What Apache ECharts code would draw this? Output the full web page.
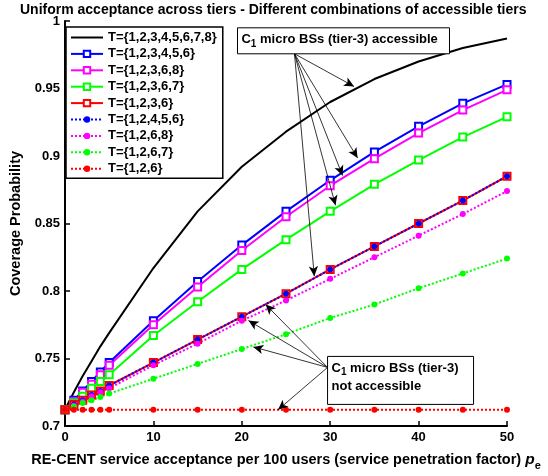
<!DOCTYPE html>
<html>
<head>
<meta charset="utf-8">
<script src="https://cdn.jsdelivr.net/npm/echarts@6/dist/echarts.min.js"></script>
<style>
  html, body { margin: 0; padding: 0; background: #fff; }
  #main { width: 548px; height: 476px; }
</style>
</head>
<body>
<div id="main"></div>
<script>
// x values (service penetration factor p_e)
var pe = [0, 1, 2, 3, 4, 5, 10, 15, 20, 25, 30, 35, 40, 45, 50];

var names = ['T={1,2,3,4,5,6,7,8}', 'T={1,2,3,4,5,6}', 'T={1,2,3,6,8}', 'T={1,2,3,6,7}',
             'T={1,2,3,6}', 'T={1,2,4,5,6}', 'T={1,2,6,8}', 'T={1,2,6,7}', 'T={1,2,6}'];

var t12345678 = [0.712, 0.725, 0.737, 0.748, 0.759, 0.769, 0.817, 0.859, 0.892, 0.918, 0.940, 0.957, 0.970, 0.980, 0.987];
var t123456   = [0.712, 0.719, 0.726, 0.733, 0.740, 0.747, 0.778, 0.807, 0.834, 0.859, 0.882, 0.903, 0.922, 0.939, 0.953];
var t12368    = [0.712, 0.718, 0.725, 0.731, 0.738, 0.745, 0.775, 0.803, 0.830, 0.855, 0.878, 0.898, 0.917, 0.934, 0.949];
var t12367    = [0.712, 0.717, 0.722, 0.728, 0.733, 0.738, 0.767, 0.792, 0.816, 0.838, 0.859, 0.879, 0.897, 0.914, 0.929];
var t1236     = [0.712, 0.716, 0.719, 0.723, 0.726, 0.730, 0.747, 0.764, 0.781, 0.798, 0.816, 0.833, 0.850, 0.867, 0.885];
var t12456    = [0.712, 0.716, 0.719, 0.723, 0.726, 0.730, 0.747, 0.764, 0.781, 0.798, 0.816, 0.833, 0.850, 0.867, 0.885];
var t1268     = [0.712, 0.715, 0.718, 0.722, 0.725, 0.728, 0.745, 0.761, 0.778, 0.793, 0.809, 0.825, 0.841, 0.857, 0.874];
var t1267     = [0.712, 0.7145, 0.717, 0.719, 0.7215, 0.724, 0.735, 0.746, 0.757, 0.768, 0.780, 0.790, 0.802, 0.813, 0.824];
var t126      = [0.712, 0.712, 0.712, 0.712, 0.712, 0.712, 0.712, 0.712, 0.712, 0.712, 0.712, 0.712, 0.712, 0.712, 0.712];

var yTicks = [0.7, 0.75, 0.8, 0.85, 0.9, 0.95, 1];

// annotation arrows, in data coordinates [pe, probability]
var accFrom = [25.96, 0.9757];
var accTo = [[32.7, 0.9515], [33.1, 0.8985], [31.4, 0.8855], [30.6, 0.8635], [28.2, 0.811]];
var notFrom = [29.7, 0.7434];
var notTo = [[22.7, 0.790], [20.75, 0.7781], [21.3, 0.7586], [24.1, 0.712]];

var font = 'Liberation Sans, Arial, Helvetica, sans-serif';

function pairs(ys) {
    return pe.map(function (x, i) { return [x, ys[i]]; });
}

function mk(name, ys, color, dotted, symbol) {
    return {
        name: name,
        type: 'line',
        data: pairs(ys),
        symbol: symbol,
        symbolSize: symbol === 'circle' ? 6 : 7,
        showSymbol: symbol !== 'none',
        color: color,
        lineStyle: { color: color, width: 2, type: dotted ? [2, 2] : 'solid' },
        itemStyle: { color: color, borderColor: color, borderWidth: symbol === 'emptyRect' ? 1.5 : 0 },
        emphasis: { disabled: true },
        animation: false
    };
}

var arrowLines = [];
accTo.forEach(function (t) { arrowLines.push([{ coord: accFrom }, { coord: t }]); });
notTo.forEach(function (t) { arrowLines.push([{ coord: notFrom }, { coord: t }]); });

var series = [
    mk(names[0], t12345678, '#000000', false, 'none'),
    mk(names[1], t123456, '#0000ff', false, 'emptyRect'),
    mk(names[2], t12368, '#ff00ff', false, 'emptyRect'),
    mk(names[3], t12367, '#00ff00', false, 'emptyRect'),
    mk(names[4], t1236, '#ff0000', false, 'emptyRect'),
    mk(names[5], t12456, '#0000ff', true, 'circle'),
    mk(names[6], t1268, '#ff00ff', true, 'circle'),
    mk(names[7], t1267, '#00ff00', true, 'circle'),
    mk(names[8], t126, '#ff0000', true, 'circle'),
    {
        name: 'arrows',
        type: 'line',
        data: [],
        silent: true,
        animation: false,
        markLine: {
            silent: true,
            animation: false,
            symbol: ['none', 'arrow'],
            symbolSize: [7, 10],
            label: { show: false },
            lineStyle: { color: '#000', width: 0.8, type: 'solid' },
            emphasis: { disabled: true },
            data: arrowLines
        }
    }
];

// legend entries; the black curve has no marker
var legendData = names.map(function (nm, i) {
    if (i === 0) {
        return { name: nm, itemStyle: { color: 'rgba(0,0,0,0)', borderWidth: 0 } };
    }
    return { name: nm };
});

var myChart = echarts.init(document.getElementById('main'));

var option = {
    animation: false,
    title: {
        text: 'Uniform acceptance across tiers - Different combinations of accessible tiers',
        left: 15,
        top: -2,
        textStyle: { fontSize: 14, fontWeight: 'bold', color: '#000', fontFamily: font }
    },
    grid: { left: 62, right: 41, top: 21, bottom: 47 },
    legend: {
        data: legendData,
        orient: 'vertical',
        left: 66,
        top: 27,
        padding: [4, 6, 3, 4],
        itemWidth: 32,
        itemHeight: 8,
        itemGap: 3.4,
        backgroundColor: '#fff',
        borderColor: '#000',
        borderWidth: 1.5,
        borderRadius: 0,
        textStyle: { fontSize: 13, fontWeight: 'bold', color: '#000', fontFamily: font, lineHeight: 13 }
    },
    xAxis: {
        type: 'value',
        min: 0,
        max: 50,
        interval: 10,
        name: '{t|RE-CENT service acceptance per 100 users (service penetration factor) }{p|p}{e|e}',
        nameLocation: 'middle',
        nameGap: 26,
        nameTextStyle: {
            rich: {
                t: { fontSize: 14.5, fontWeight: 'bold', color: '#000', fontFamily: font, lineHeight: 19, verticalAlign: 'top' },
                p: { fontSize: 15.5, fontWeight: 'bold', fontStyle: 'italic', color: '#000', fontFamily: font, lineHeight: 19, verticalAlign: 'top' },
                e: { fontSize: 11, fontWeight: 'bold', color: '#000', fontFamily: font, lineHeight: 11, verticalAlign: 'bottom' }
            }
        },
        axisLine: { lineStyle: { color: '#000', width: 2 } },
        axisTick: { inside: true, length: 5, lineStyle: { color: '#000', width: 1.5 } },
        axisLabel: { fontSize: 13, fontWeight: 'bold', color: '#000', fontFamily: font, margin: 5 },
        splitLine: { show: false }
    },
    yAxis: {
        type: 'value',
        min: yTicks[0],
        max: yTicks[yTicks.length - 1],
        interval: 0.05,
        name: 'Coverage Probability',
        nameLocation: 'middle',
        nameGap: 42,
        nameTextStyle: { fontSize: 14.5, fontWeight: 'bold', color: '#000', fontFamily: font },
        axisLine: { lineStyle: { color: '#000', width: 2 } },
        axisTick: { inside: true, length: 5, lineStyle: { color: '#000', width: 1.5 } },
        axisLabel: { fontSize: 13, fontWeight: 'bold', color: '#000', fontFamily: font, margin: 5 },
        splitLine: { show: false }
    },
    series: series
};

myChart.setOption(option);

// text boxes for the annotations, anchored on the arrow origins
var a = myChart.convertToPixel({ gridIndex: 0 }, accFrom);
var n = myChart.convertToPixel({ gridIndex: 0 }, notFrom);
var boxText = { fontSize: 13, fontWeight: 'bold', fill: '#000', fontFamily: font, lineHeight: 18 };
var subText = { fontSize: 10, fontWeight: 'bold', fill: '#000', fontFamily: font, lineHeight: 10, verticalAlign: 'bottom' };

myChart.setOption({
    graphic: [
        {
            type: 'rect', silent: true, z: 100,
            shape: { x: a[0] - 57, y: a[1] - 26, width: 212, height: 26 },
            style: { fill: '#fff', stroke: '#000', lineWidth: 1 }
        },
        {
            type: 'text', silent: true, z: 101,
            x: a[0] - 53, y: a[1] - 23,
            style: {
                text: '{b|C}{s|1}{b| micro BSs (tier-3) accessible}',
                rich: { b: boxText, s: subText }
            }
        },
        {
            type: 'rect', silent: true, z: 100,
            shape: { x: n[0], y: n[1] - 11, width: 146, height: 48 },
            style: { fill: '#fff', stroke: '#000', lineWidth: 1 }
        },
        {
            type: 'text', silent: true, z: 101,
            x: n[0] + 4, y: n[1] - 8,
            style: {
                text: '{b|C}{s|1}{b| micro BSs (tier-3)}\n{b|not accessible}',
                rich: { b: boxText, s: subText }
            }
        }
    ]
});

window.onresize = function () {
    myChart.resize();
};
</script>
</body>
</html>
